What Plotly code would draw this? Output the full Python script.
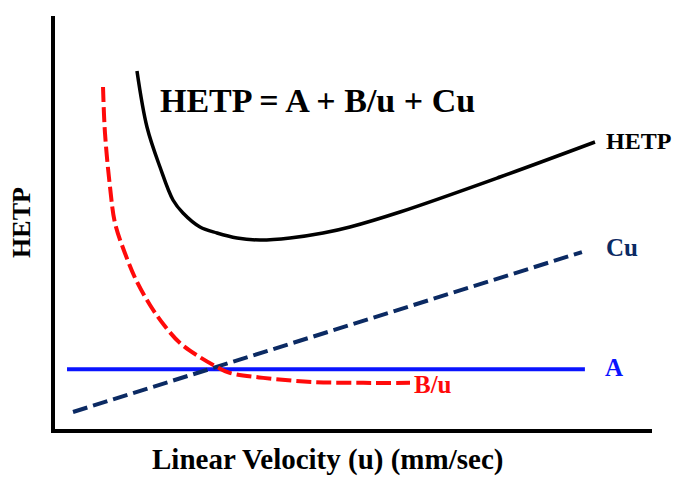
import plotly.graph_objects as go

# HETP total curve (arbitrary units)
hetp_u = [14.02, 15.69, 17.86, 20.03, 21.70, 24.54, 27.38, 30.72, 34.56, 39.57, 45.08, 49.58, 57.93, 74.62, 90.48]
hetp_v = [86.75, 73.25, 63.61, 55.66, 52.53, 49.16, 47.71, 46.51, 46.02, 46.51, 47.71, 49.16, 52.77, 61.20, 69.64]

# B/u term
bu_u = [8.35, 8.68, 9.52, 10.35, 12.0, 13.86, 16.19, 18.6, 21.2, 24.5, 27.4, 29.5, 35.1, 43.4, 51.8, 59.6]
bu_v = [82.9, 71.8, 58.8, 50.1, 42.9, 36.4, 30.36, 25.4, 21.2, 17.8, 15.4, 14.0, 12.8, 11.8, 11.6, 11.6]

# Cu term
cu_u = [3.34, 88.3]
cu_v = [4.58, 43.1]

# A term
a_u = [2.34, 88.8]
a_v = [14.9, 14.9]

FONT = "Liberation Serif, Times New Roman, serif"

fig = go.Figure()
fig.add_trace(go.Scatter(x=a_u, y=a_v, mode="lines",
                         line=dict(color="#0a14ff", width=4), hoverinfo="skip"))
fig.add_trace(go.Scatter(x=cu_u, y=cu_v, mode="lines",
                         line=dict(color="#0b2a63", width=4, dash="15px,6px"), hoverinfo="skip"))
fig.add_trace(go.Scatter(x=bu_u, y=bu_v, mode="lines",
                         line=dict(color="#ff0a0a", width=4, dash="15px,5px", shape="spline", smoothing=1.0),
                         hoverinfo="skip"))
fig.add_trace(go.Scatter(x=hetp_u, y=hetp_v, mode="lines",
                         line=dict(color="black", width=3.5, shape="spline", smoothing=1.0),
                         hoverinfo="skip"))

def lab(x, y, text, color, size, xanchor="left"):
    fig.add_annotation(x=x, y=y, xref="x", yref="y", text="<b>%s</b>" % text, showarrow=False,
                       xanchor=xanchor, yanchor="middle",
                       font=dict(family=FONT, size=size, color=color))

lab(92.0, 69.9, "HETP", "black", 24)
lab(92.0, 44.1, "Cu", "#0b2a63", 25)
lab(91.8, 15.2, "A", "#0a14ff", 25)
lab(59.9, 11.1, "B/u", "#ff0a0a", 25)
lab(17.6, 79.6, "HETP = A + B/u + Cu", "black", 34)

# x-axis title (placed as annotation to match off-centre position)
fig.add_annotation(x=0.457, y=-0.073, xref="paper", yref="paper",
                   text="<b>Linear Velocity (u) (mm/sec)</b>", showarrow=False,
                   xanchor="center", yanchor="middle",
                   font=dict(family=FONT, size=29, color="black"))

fig.update_layout(
    width=679, height=477,
    margin=dict(l=55, r=27, t=16, b=48),
    paper_bgcolor="white", plot_bgcolor="white",
    showlegend=False,
    xaxis=dict(range=[0.334, 100], showgrid=False, zeroline=False, showticklabels=False,
               ticks="", showline=True, linecolor="black", linewidth=4),
    yaxis=dict(range=[0.48, 100], showgrid=False, zeroline=False, showticklabels=False,
               ticks="", showline=True, linecolor="black", linewidth=4,
               title=dict(text="<b>HETP</b>", font=dict(family=FONT, size=26, color="black"),
                          standoff=14)),
)

fig.write_html("out.html")
